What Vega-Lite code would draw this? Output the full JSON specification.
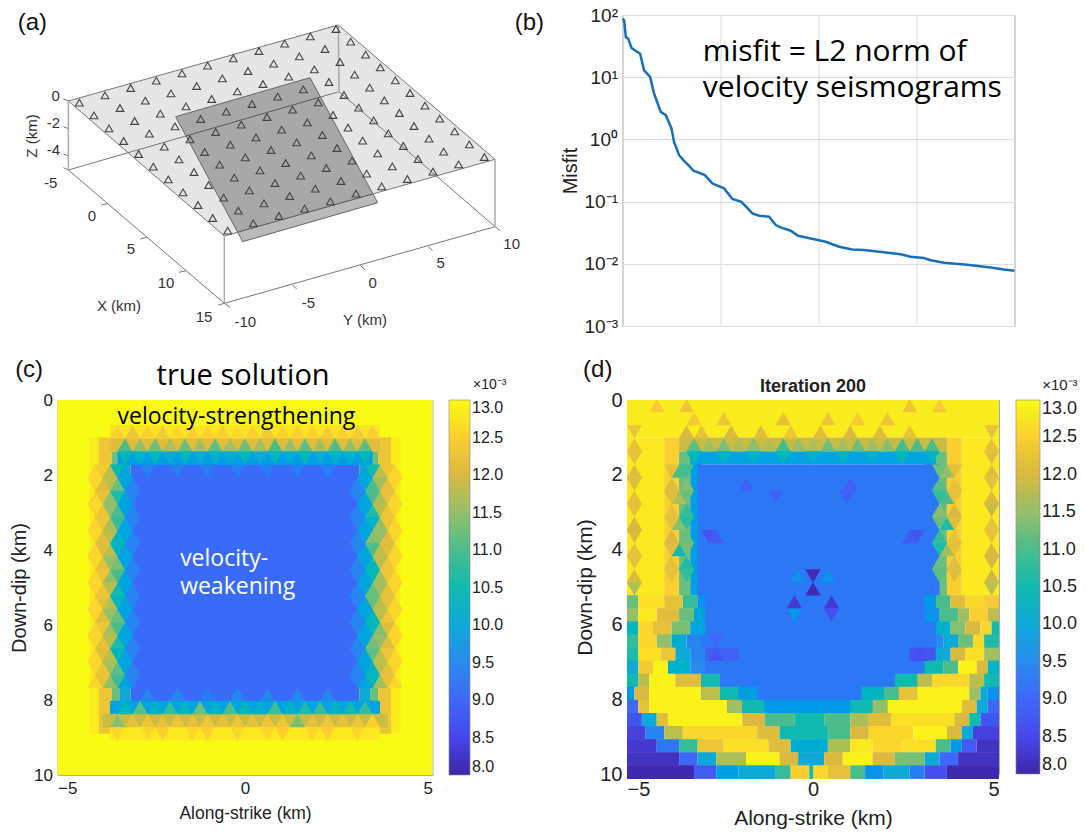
{"$schema":"https://vega.github.io/schema/vega-lite/v6.json","background":"white","padding":{"left":8.5,"top":5,"right":0,"bottom":0},"config":{"view":{"stroke":null},"font":"Liberation Sans","axis":{"labelFontSize":17,"titleFontSize":20,"labelColor":"#222","titleColor":"#222","titleFontWeight":"normal","domain":false,"ticks":false,"grid":false,"labelPadding":5,"labelFont":"Liberation Sans","titleFont":"Liberation Sans"},"legend":{"gradientLength":374,"labelFontSize":18,"labelColor":"#222","labelOverlap":false,"gradientStrokeColor":"#888","gradientStrokeWidth":0.6}},
"datasets":{
"st":[{"x":238,"y":308},{"x":282,"y":346},{"x":327,"y":385},{"x":371,"y":423},{"x":416,"y":462},{"x":460,"y":500},{"x":505,"y":538},{"x":549,"y":577},{"x":594,"y":615},{"x":638,"y":654},{"x":683,"y":692},
{"x":315,"y":286},{"x":360,"y":324},{"x":404,"y":363},{"x":448,"y":401},{"x":493,"y":440},{"x":537,"y":478},{"x":582,"y":516},{"x":626,"y":555},{"x":671,"y":593},{"x":715,"y":632},{"x":760,"y":670},
{"x":392,"y":264},{"x":436,"y":302},{"x":481,"y":341},{"x":525,"y":379},{"x":570,"y":418},{"x":614,"y":456},{"x":659,"y":494},{"x":703,"y":533},{"x":748,"y":571},{"x":792,"y":610},{"x":837,"y":648},
{"x":469,"y":242},{"x":513,"y":280},{"x":558,"y":319},{"x":602,"y":357},{"x":647,"y":396},{"x":691,"y":434},{"x":736,"y":472},{"x":780,"y":511},{"x":825,"y":549},{"x":869,"y":588},{"x":914,"y":626},
{"x":546,"y":220},{"x":590,"y":258},{"x":635,"y":297},{"x":679,"y":335},{"x":724,"y":374},{"x":768,"y":412},{"x":813,"y":450},{"x":857,"y":489},{"x":902,"y":527},{"x":946,"y":566},{"x":991,"y":604},
{"x":623,"y":197},{"x":667,"y":235},{"x":712,"y":274},{"x":756,"y":312},{"x":801,"y":351},{"x":845,"y":389},{"x":890,"y":427},{"x":934,"y":466},{"x":979,"y":504},{"x":1023,"y":543},{"x":1068,"y":581},
{"x":700,"y":175},{"x":744,"y":213},{"x":789,"y":252},{"x":833,"y":290},{"x":878,"y":329},{"x":922,"y":367},{"x":967,"y":405},{"x":1011,"y":444},{"x":1056,"y":482},{"x":1100,"y":521},{"x":1145,"y":559},
{"x":777,"y":153},{"x":821,"y":191},{"x":866,"y":230},{"x":910,"y":268},{"x":955,"y":307},{"x":999,"y":345},{"x":1044,"y":383},{"x":1088,"y":422},{"x":1133,"y":460},{"x":1177,"y":499},{"x":1222,"y":537},
{"x":854,"y":131},{"x":898,"y":169},{"x":943,"y":208},{"x":987,"y":246},{"x":1032,"y":285},{"x":1076,"y":323},{"x":1121,"y":361},{"x":1165,"y":400},{"x":1210,"y":438},{"x":1254,"y":477},{"x":1299,"y":515},
{"x":931,"y":109},{"x":975,"y":147},{"x":1020,"y":186},{"x":1064,"y":224},{"x":1109,"y":263},{"x":1153,"y":301},{"x":1198,"y":339},{"x":1242,"y":378},{"x":1287,"y":416},{"x":1331,"y":455},{"x":1376,"y":493},
{"x":1008,"y":87},{"x":1052,"y":125},{"x":1097,"y":164},{"x":1141,"y":202},{"x":1186,"y":241},{"x":1230,"y":279},{"x":1275,"y":317},{"x":1319,"y":356},{"x":1364,"y":394},{"x":1408,"y":433},{"x":1453,"y":471}],
"plane":[{"x":205,"y":303,"y2":303},{"x":673,"y":171,"y2":708},{"x":1015,"y":75,"y2":611},{"x":1485,"y":478,"y2":478}],
"patch":[{"x":527,"y":350,"y2":350},{"x":728,"y":292,"y2":725},{"x":930,"y":233,"y2":667},{"x":1133,"y":608,"y2":608}],
"edges":[{"g":1,"x":205,"y":303},{"g":1,"x":1015,"y":75},{"g":20,"x":1015,"y":75},{"g":20,"x":1485,"y":478},{"g":21,"x":1485,"y":478},{"g":21,"x":673,"y":708},{"g":22,"x":673,"y":708},{"g":22,"x":205,"y":303},
{"g":2,"x":205,"y":510},{"g":2,"x":1017,"y":275},{"g":23,"x":1017,"y":275},{"g":23,"x":1485,"y":680},{"g":3,"x":205,"y":510},{"g":3,"x":673,"y":910},{"g":24,"x":673,"y":910},{"g":24,"x":1485,"y":680},
{"g":4,"x":190,"y":297},{"g":4,"x":205,"y":303},{"g":5,"x":190,"y":380},{"g":5,"x":205,"y":386},{"g":6,"x":190,"y":462},{"g":6,"x":205,"y":468},{"g":7,"x":190,"y":503},{"g":7,"x":205,"y":510},
{"g":8,"x":325,"y":610},{"g":8,"x":305,"y":615},{"g":9,"x":440,"y":712},{"g":9,"x":420,"y":717},{"g":10,"x":558,"y":812},{"g":10,"x":537,"y":817},{"g":15,"x":673,"y":910},{"g":15,"x":655,"y":915},
{"g":11,"x":878,"y":855},{"g":11,"x":890,"y":867},{"g":12,"x":1082,"y":797},{"g":12,"x":1095,"y":810},{"g":13,"x":1285,"y":740},{"g":13,"x":1298,"y":752},{"g":14,"x":1485,"y":680},{"g":14,"x":1500,"y":692},{"g":16,"x":673,"y":910},{"g":16,"x":690,"y":922}],
"posts":[{"g":1,"x":205,"y":303},{"g":1,"x":205,"y":510},{"g":2,"x":673,"y":708},{"g":2,"x":673,"y":910},{"g":3,"x":1485,"y":478},{"g":3,"x":1485,"y":680},{"g":4,"x":1015,"y":75},{"g":4,"x":1017,"y":275}],
"patchEdge":[{"g":1,"x":527,"y":350},{"g":1,"x":930,"y":233},{"g":2,"x":930,"y":233},{"g":2,"x":1133,"y":608},{"g":3,"x":1133,"y":608},{"g":3,"x":728,"y":725},{"g":4,"x":728,"y":725},{"g":4,"x":527,"y":350}],
"aText":[{"x":167,"y":287,"t":"0"},{"x":160,"y":368,"t":"-2"},{"x":160,"y":450,"t":"-4"},{"x":152,"y":548,"t":"-5"},{"x":276,"y":648,"t":"0"},{"x":393,"y":748,"t":"5"},{"x":498,"y":850,"t":"10"},{"x":612,"y":950,"t":"15"},{"x":357,"y":918,"t":"X (km)"},{"x":736,"y":965,"t":"-10"},{"x":925,"y":908,"t":"-5"},{"x":1118,"y":848,"t":"0"},{"x":1322,"y":790,"t":"5"},{"x":1535,"y":733,"t":"10"},{"x":1095,"y":960,"t":"Y (km)"}],
"panelTag":[{"x":97,"y":70,"t":"(a)"},{"x":1588,"y":70,"t":"(b)"}],
"bLine":[{"i":0,"m":87},{"i":0.85,"m":82},{"i":1.7,"m":44},{"i":2.9,"m":41.7},{"i":4.6,"m":29.5},{"i":6.8,"m":26.4},{"i":9,"m":23.9},{"i":11,"m":12.9},{"i":14.1,"m":10.1},{"i":16.1,"m":5.46},{"i":19.5,"m":2.77},{"i":22.1,"m":2.45},{"i":25,"m":1.5},{"i":26.3,"m":0.912},{"i":28.9,"m":0.557},{"i":31.4,"m":0.452},{"i":34,"m":0.376},{"i":36.2,"m":0.313},{"i":39.1,"m":0.29},{"i":42,"m":0.266},{"i":45.9,"m":0.195},{"i":51.8,"m":0.163},{"i":56.1,"m":0.11},{"i":60.7,"m":0.0993},{"i":66.3,"m":0.0646},{"i":69.7,"m":0.0592},{"i":74.8,"m":0.057},{"i":78.2,"m":0.0419},{"i":80.7,"m":0.0384},{"i":85.8,"m":0.034},{"i":89.6,"m":0.0282},{"i":96,"m":0.0256},{"i":103.7,"m":0.0226},{"i":110.5,"m":0.0188},{"i":117.2,"m":0.017},{"i":123.2,"m":0.0166},{"i":130,"m":0.0158},{"i":141.9,"m":0.0142},{"i":147,"m":0.013},{"i":153.8,"m":0.0124},{"i":157.2,"m":0.0114},{"i":164,"m":0.0104},{"i":175.9,"m":0.00966},{"i":187.8,"m":0.00875},{"i":194.6,"m":0.00813},{"i":200,"m":0.00776}],
"bMinor":[{"m":0.002},{"m":0.003},{"m":0.004},{"m":0.005},{"m":0.006},{"m":0.007},{"m":0.008},{"m":0.009},{"m":0.02},{"m":0.03},{"m":0.04},{"m":0.05},{"m":0.06},{"m":0.07},{"m":0.08},{"m":0.09},{"m":0.2},{"m":0.3},{"m":0.4},{"m":0.5},{"m":0.6},{"m":0.7},{"m":0.8},{"m":0.9},{"m":2},{"m":3},{"m":4},{"m":5},{"m":6},{"m":7},{"m":8},{"m":9},{"m":20},{"m":30},{"m":40},{"m":50},{"m":60},{"m":70},{"m":80},{"m":90}],
"bText":[{"i":41,"m":25.4,"t":"misfit = L2 norm of"},{"i":41,"m":6.7,"t":"velocity seismograms"}],
"cBlocks":[{"x":-5,"x2":5,"y":0,"y2":10,"v":13},{"x":-4.15,"x2":-3.9,"y":1,"y2":8.9,"v":12.85},{"x":-3.9,"x2":-3.55,"y":1,"y2":8.9,"v":12.3},{"x":-3.55,"x2":-3.35,"y":1.37,"y2":8.05,"v":11.2},{"x":-3.35,"x2":-3.05,"y":1.37,"y2":8.05,"v":10},{"x":-3.05,"x2":3.05,"y":1.72,"y2":8.03,"v":9.05},{"x":3.05,"x2":3.35,"y":1.37,"y2":8.05,"v":10},{"x":3.35,"x2":3.55,"y":1.37,"y2":8.05,"v":11.2},{"x":3.55,"x2":3.9,"y":1,"y2":8.9,"v":12.3},{"x":3.9,"x2":4.15,"y":1,"y2":8.9,"v":12.85}],
"cBands":[{"x":-3.6,"x2":3.6,"y":0.85,"v":12.75},{"x":-3.6,"x2":3.6,"y":1.2,"v":12.1},{"x":-3.4,"x2":3.4,"y":1.55,"v":9.8},{"x":-3.6,"x2":3.6,"y":8.2,"v":9.9},{"x":-3.8,"x2":3.8,"y":8.55,"v":11.9},{"x":-3.6,"x2":3.6,"y":8.9,"v":12.8}],
"cUp":[{"x":-3.4,"y":0.85,"v":12.5},{"x":-3,"y":0.85,"v":12.3},{"x":-2.6,"y":0.85,"v":12.5},{"x":-2.2,"y":0.85,"v":12.4},{"x":-1.8,"y":0.85,"v":12.6},{"x":-1.4,"y":0.85,"v":12.5},{"x":-1,"y":0.85,"v":12.5},{"x":-0.6,"y":0.85,"v":12.5},{"x":-0.2,"y":0.85,"v":12.6},{"x":0.2,"y":0.85,"v":12.5},{"x":0.6,"y":0.85,"v":12.4},{"x":1,"y":0.85,"v":12.5},{"x":1.4,"y":0.85,"v":12.5},{"x":1.8,"y":0.85,"v":12.5},{"x":2.2,"y":0.85,"v":12.4},{"x":2.6,"y":0.85,"v":12.5},{"x":3,"y":0.85,"v":12.4},{"x":3.4,"y":0.85,"v":12.5},
{"x":-3.2,"y":1.2,"v":11},{"x":-2.8,"y":1.2,"v":11.5},{"x":-2.4,"y":1.2,"v":11.2},{"x":-2,"y":1.2,"v":11.7},{"x":-1.6,"y":1.2,"v":11.2},{"x":-1.2,"y":1.2,"v":11.6},{"x":-0.8,"y":1.2,"v":11.1},{"x":-0.4,"y":1.2,"v":11.6},{"x":0,"y":1.2,"v":11.2},{"x":0.4,"y":1.2,"v":11.6},{"x":0.8,"y":1.2,"v":11},{"x":1.2,"y":1.2,"v":11.5},{"x":1.6,"y":1.2,"v":11.1},{"x":2,"y":1.2,"v":11.6},{"x":2.4,"y":1.2,"v":11},{"x":2.8,"y":1.2,"v":11.5},{"x":3.2,"y":1.2,"v":11.1},
{"x":-2.6,"y":7.85,"v":9.4},{"x":-1.8,"y":7.85,"v":9.4},{"x":-1,"y":7.85,"v":9.3},{"x":-0.2,"y":7.85,"v":9.4},{"x":0.6,"y":7.85,"v":9.4},{"x":1.4,"y":7.85,"v":9.4},{"x":2.2,"y":7.85,"v":9.4},
{"x":-3.2,"y":8.2,"v":10.4},{"x":-2.8,"y":8.2,"v":11.1},{"x":-2.4,"y":8.2,"v":10.3},{"x":-2,"y":8.2,"v":10.8},{"x":-1.6,"y":8.2,"v":10.4},{"x":-1.2,"y":8.2,"v":11.2},{"x":-0.8,"y":8.2,"v":10.3},{"x":-0.4,"y":8.2,"v":11},{"x":0,"y":8.2,"v":10.4},{"x":0.4,"y":8.2,"v":10.2},{"x":0.8,"y":8.2,"v":10.9},{"x":1.2,"y":8.2,"v":10.3},{"x":1.6,"y":8.2,"v":10.6},{"x":2,"y":8.2,"v":10.8},{"x":2.4,"y":8.2,"v":10.3},{"x":2.8,"y":8.2,"v":10.5},{"x":3.2,"y":8.2,"v":10.8},
{"x":-3.4,"y":8.55,"v":11.4},{"x":-3,"y":8.55,"v":12.2},{"x":-2.6,"y":8.55,"v":12.3},{"x":-2.2,"y":8.55,"v":12.2},{"x":-1.8,"y":8.55,"v":12.3},{"x":-1.4,"y":8.55,"v":12.2},{"x":-1,"y":8.55,"v":12.3},{"x":-0.6,"y":8.55,"v":12.2},{"x":-0.2,"y":8.55,"v":12.3},{"x":0.2,"y":8.55,"v":12.2},{"x":0.6,"y":8.55,"v":12.3},{"x":1,"y":8.55,"v":12.3},{"x":1.4,"y":8.55,"v":11.3},{"x":1.8,"y":8.55,"v":12.2},{"x":2.2,"y":8.55,"v":12.3},{"x":2.6,"y":8.55,"v":12.2},{"x":3,"y":8.55,"v":12.3},{"x":3.4,"y":8.55,"v":12.5},
{"x":-3.8,"y":2.25,"v":12.1},{"x":-3.4,"y":2.25,"v":11.2},{"x":3.4,"y":2.25,"v":11},{"x":3.8,"y":2.25,"v":12.2},{"x":-3.8,"y":2.95,"v":12.3},{"x":-3.4,"y":2.95,"v":11},{"x":3.4,"y":2.95,"v":10.6},{"x":3.8,"y":2.95,"v":12.3},{"x":-3.8,"y":3.65,"v":12.1},{"x":-3.4,"y":3.65,"v":10.3},{"x":3.4,"y":3.65,"v":11.4},{"x":3.8,"y":3.65,"v":12.1},{"x":-3.8,"y":4.35,"v":12.2},{"x":-3.4,"y":4.35,"v":11.3},{"x":3.4,"y":4.35,"v":10.4},{"x":3.8,"y":4.35,"v":12.3},{"x":-3.8,"y":5.05,"v":12.3},{"x":-3.4,"y":5.05,"v":10.5},{"x":3.4,"y":5.05,"v":11.2},{"x":3.8,"y":5.05,"v":12.2},{"x":-3.8,"y":5.75,"v":12.1},{"x":-3.4,"y":5.75,"v":11.2},{"x":3.4,"y":5.75,"v":10.4},{"x":3.8,"y":5.75,"v":12.3},{"x":-3.8,"y":6.45,"v":12.2},{"x":-3.4,"y":6.45,"v":10.6},{"x":3.4,"y":6.45,"v":11.3},{"x":3.8,"y":6.45,"v":12.1},{"x":-3.8,"y":7.15,"v":12.3},{"x":-3.4,"y":7.15,"v":11.1},{"x":3.4,"y":7.15,"v":10.3},{"x":3.8,"y":7.15,"v":12.2},
{"x":-3.6,"y":1.9,"v":11.8},{"x":3.6,"y":1.9,"v":11.8},{"x":-3.6,"y":2.6,"v":11.5},{"x":3.6,"y":2.6,"v":11.7},{"x":-3.6,"y":3.3,"v":11.7},{"x":3.6,"y":3.3,"v":11.5},{"x":-3.6,"y":4,"v":11.8},{"x":3.6,"y":4,"v":11.8},{"x":-3.6,"y":4.7,"v":11.5},{"x":3.6,"y":4.7,"v":11.6},{"x":-3.6,"y":5.4,"v":11.8},{"x":3.6,"y":5.4,"v":11.8},{"x":-3.6,"y":6.1,"v":11.6},{"x":3.6,"y":6.1,"v":11.4},{"x":-3.6,"y":6.8,"v":11.8},{"x":3.6,"y":6.8,"v":11.8},{"x":-3.6,"y":7.5,"v":11.5},{"x":3.6,"y":7.5,"v":11.6},
{"x":-3,"y":2.25,"v":9.4},{"x":3,"y":2.25,"v":9.4},{"x":-3,"y":2.95,"v":9.4},{"x":3,"y":2.95,"v":9.4},{"x":-3,"y":3.65,"v":9.4},{"x":3,"y":3.65,"v":9.4},{"x":-3,"y":4.35,"v":9.4},{"x":3,"y":4.35,"v":9.4},{"x":-3,"y":5.05,"v":9.4},{"x":3,"y":5.05,"v":9.4},{"x":-3,"y":5.75,"v":9.4},{"x":3,"y":5.75,"v":9.4},{"x":-3,"y":6.45,"v":9.4},{"x":3,"y":6.45,"v":9.4},{"x":-3,"y":7.15,"v":9.4},{"x":3,"y":7.15,"v":9.4},
{"x":-3.2,"y":1.9,"v":9.9},{"x":3.2,"y":1.9,"v":9.9},{"x":-3.2,"y":2.6,"v":9.9},{"x":3.2,"y":2.6,"v":9.9},{"x":-3.2,"y":3.3,"v":9.9},{"x":3.2,"y":3.3,"v":9.9},{"x":-3.2,"y":4,"v":9.9},{"x":3.2,"y":4,"v":9.9},{"x":-3.2,"y":4.7,"v":9.9},{"x":3.2,"y":4.7,"v":9.9},{"x":-3.2,"y":5.4,"v":9.9},{"x":3.2,"y":5.4,"v":9.9},{"x":-3.2,"y":6.1,"v":9.9},{"x":3.2,"y":6.1,"v":9.9},{"x":-3.2,"y":6.8,"v":9.9},{"x":3.2,"y":6.8,"v":9.9},{"x":-3.2,"y":7.5,"v":9.9},{"x":3.2,"y":7.5,"v":9.9},
{"x":-4,"y":1.9,"v":12.6},{"x":4,"y":1.9,"v":12.6},{"x":-4,"y":2.6,"v":12.6},{"x":4,"y":2.6,"v":12.6},{"x":-4,"y":3.3,"v":12.6},{"x":4,"y":3.3,"v":12.6},{"x":-4,"y":4,"v":12.6},{"x":4,"y":4,"v":12.6},{"x":-4,"y":4.7,"v":12.6},{"x":4,"y":4.7,"v":12.6},{"x":-4,"y":5.4,"v":12.6},{"x":4,"y":5.4,"v":12.6},{"x":-4,"y":6.1,"v":12.6},{"x":4,"y":6.1,"v":12.6},{"x":-4,"y":6.8,"v":12.6},{"x":4,"y":6.8,"v":12.6},{"x":-4,"y":7.5,"v":12.6},{"x":4,"y":7.5,"v":12.6}],
"cDown":[{"x":-3.2,"y":1.55,"v":10.4},{"x":-2.8,"y":1.55,"v":10.2},{"x":-2.4,"y":1.55,"v":10.4},{"x":-2,"y":1.55,"v":10},{"x":-1.6,"y":1.55,"v":10.4},{"x":-1.2,"y":1.55,"v":10},{"x":-0.8,"y":1.55,"v":10.3},{"x":-0.4,"y":1.55,"v":10.1},{"x":0,"y":1.55,"v":10.4},{"x":0.4,"y":1.55,"v":10},{"x":0.8,"y":1.55,"v":10.4},{"x":1.2,"y":1.55,"v":10.1},{"x":1.6,"y":1.55,"v":10.4},{"x":2,"y":1.55,"v":10},{"x":2.4,"y":1.55,"v":10.3},{"x":2.8,"y":1.55,"v":10.2},{"x":3.2,"y":1.55,"v":10.4},
{"x":-2.6,"y":1.9,"v":9.35},{"x":-1.8,"y":1.9,"v":9.35},{"x":-1,"y":1.9,"v":9.3},{"x":-0.2,"y":1.9,"v":9.35},{"x":0.6,"y":1.9,"v":9.3},{"x":1.4,"y":1.9,"v":9.35},{"x":2.2,"y":1.9,"v":9.35},
{"x":-3.4,"y":8.9,"v":12.6},{"x":-2.6,"y":8.9,"v":12.6},{"x":-2.2,"y":8.9,"v":12.5},{"x":-1.4,"y":8.9,"v":12.6},{"x":-1,"y":8.9,"v":12.5},{"x":-0.2,"y":8.9,"v":12.6},{"x":0.6,"y":8.9,"v":12.6},{"x":1,"y":8.9,"v":12.5},{"x":1.8,"y":8.9,"v":12.6},{"x":2.2,"y":8.9,"v":12.5},{"x":3,"y":8.9,"v":12.6},
{"x":-3.6,"y":2.25,"v":11.8},{"x":3.6,"y":2.25,"v":11.6},{"x":-3.6,"y":2.95,"v":11.5},{"x":3.6,"y":2.95,"v":11.8},{"x":-3.6,"y":3.65,"v":11.8},{"x":3.6,"y":3.65,"v":11.5},{"x":-3.6,"y":4.35,"v":11.5},{"x":3.6,"y":4.35,"v":11.8},{"x":-3.6,"y":5.05,"v":11.8},{"x":3.6,"y":5.05,"v":11.6},{"x":-3.6,"y":5.75,"v":11.5},{"x":3.6,"y":5.75,"v":11.8},{"x":-3.6,"y":6.45,"v":11.8},{"x":3.6,"y":6.45,"v":11.5},{"x":-3.6,"y":7.15,"v":11.6},{"x":3.6,"y":7.15,"v":11.8},
{"x":-3.8,"y":1.9,"v":12.4},{"x":-3.4,"y":1.9,"v":10.4},{"x":3.4,"y":1.9,"v":10.5},{"x":3.8,"y":1.9,"v":12.3},{"x":-3.8,"y":2.6,"v":12.2},{"x":-3.4,"y":2.6,"v":10.6},{"x":3.4,"y":2.6,"v":11},{"x":3.8,"y":2.6,"v":12.2},{"x":-3.8,"y":3.3,"v":12.3},{"x":-3.4,"y":3.3,"v":10.8},{"x":3.4,"y":3.3,"v":10.3},{"x":3.8,"y":3.3,"v":12.3},{"x":-3.8,"y":4,"v":12.1},{"x":-3.4,"y":4,"v":10.3},{"x":3.4,"y":4,"v":11},{"x":3.8,"y":4,"v":12.1},{"x":-3.8,"y":4.7,"v":12.3},{"x":-3.4,"y":4.7,"v":11},{"x":3.4,"y":4.7,"v":10.4},{"x":3.8,"y":4.7,"v":12.3},{"x":-3.8,"y":5.4,"v":12.2},{"x":-3.4,"y":5.4,"v":10.4},{"x":3.4,"y":5.4,"v":11.2},{"x":3.8,"y":5.4,"v":12.2},{"x":-3.8,"y":6.1,"v":12.3},{"x":-3.4,"y":6.1,"v":11},{"x":3.4,"y":6.1,"v":10.4},{"x":3.8,"y":6.1,"v":12.1},{"x":-3.8,"y":6.8,"v":12.1},{"x":-3.4,"y":6.8,"v":10.4},{"x":3.4,"y":6.8,"v":11.1},{"x":3.8,"y":6.8,"v":12.3},{"x":-3.8,"y":7.5,"v":12.2},{"x":-3.4,"y":7.5,"v":10.9},{"x":3.4,"y":7.5,"v":10.4},{"x":3.8,"y":7.5,"v":12.2},
{"x":-3.2,"y":2.25,"v":9.9},{"x":3.2,"y":2.25,"v":9.9},{"x":-3.2,"y":2.95,"v":9.9},{"x":3.2,"y":2.95,"v":9.9},{"x":-3.2,"y":3.65,"v":9.9},{"x":3.2,"y":3.65,"v":9.9},{"x":-3.2,"y":4.35,"v":9.9},{"x":3.2,"y":4.35,"v":9.9},{"x":-3.2,"y":5.05,"v":9.9},{"x":3.2,"y":5.05,"v":9.9},{"x":-3.2,"y":5.75,"v":9.9},{"x":3.2,"y":5.75,"v":9.9},{"x":-3.2,"y":6.45,"v":9.9},{"x":3.2,"y":6.45,"v":9.9},{"x":-3.2,"y":7.15,"v":9.9},{"x":3.2,"y":7.15,"v":9.9},
{"x":-3,"y":2.6,"v":9.4},{"x":3,"y":2.6,"v":9.4},{"x":-3,"y":3.3,"v":9.4},{"x":3,"y":3.3,"v":9.4},{"x":-3,"y":4,"v":9.4},{"x":3,"y":4,"v":9.4},{"x":-3,"y":4.7,"v":9.4},{"x":3,"y":4.7,"v":9.4},{"x":-3,"y":5.4,"v":9.4},{"x":3,"y":5.4,"v":9.4},{"x":-3,"y":6.1,"v":9.4},{"x":3,"y":6.1,"v":9.4},{"x":-3,"y":6.8,"v":9.4},{"x":3,"y":6.8,"v":9.4},{"x":-3,"y":7.5,"v":9.4},{"x":3,"y":7.5,"v":9.4},
{"x":-4,"y":2.25,"v":12.6},{"x":4,"y":2.25,"v":12.6},{"x":-4,"y":2.95,"v":12.6},{"x":4,"y":2.95,"v":12.6},{"x":-4,"y":3.65,"v":12.6},{"x":4,"y":3.65,"v":12.6},{"x":-4,"y":4.35,"v":12.6},{"x":4,"y":4.35,"v":12.6},{"x":-4,"y":5.05,"v":12.6},{"x":4,"y":5.05,"v":12.6},{"x":-4,"y":5.75,"v":12.6},{"x":4,"y":5.75,"v":12.6},{"x":-4,"y":6.45,"v":12.6},{"x":4,"y":6.45,"v":12.6},{"x":-4,"y":7.15,"v":12.6},{"x":4,"y":7.15,"v":12.6}],
"cText":[{"x":-3.4,"y":0.45,"t":"velocity-strengthening"}],
"cWhite":[{"x":-1.73,"y":4.24,"t":"velocity-"},{"x":-1.73,"y":4.99,"t":"weakening"}],
"cTag":[{"x":-6.13,"y":-0.8,"t":"(c)"}],
"cTitle":[{"x":-0.05,"y":-0.65,"t":"true solution"}],
"cExp":[{"x":6.08,"y":-0.4,"t":"×10⁻³"}],
"dTag":[{"x":-6.18,"y":-0.8,"t":"(d)"}],
"dTitle":[{"x":0,"y":-0.35,"t":"Iteration 200"}],
"dExp":[{"x":6.16,"y":-0.4,"t":"×10⁻³"}],
"dBlocks":[{"x":-5,"x2":5,"y":0,"y2":1,"v":12.85},{"x":-5,"x2":-4,"y":1,"y2":5.23,"v":12.8},{"x":-4,"x2":-3.6,"y":1,"y2":5.23,"v":12.5},{"x":-3.6,"x2":-3.3,"y":1.37,"y2":5.23,"v":11.2},{"x":-3.3,"x2":-3,"y":1.37,"y2":5.23,"v":9.8},{"x":3,"x2":3.3,"y":1.37,"y2":5.23,"v":9.8},{"x":3.3,"x2":3.6,"y":1.37,"y2":5.23,"v":11.2},{"x":3.6,"x2":4,"y":1,"y2":5.23,"v":12.5},{"x":4,"x2":5,"y":1,"y2":5.23,"v":12.8},{"x":-3.6,"x2":3.6,"y":1,"y2":1.37,"v":11.9},{"x":-3.3,"x2":3.3,"y":1.37,"y2":1.72,"v":9.9},{"x":-3.1,"x2":3.4,"y":1.72,"y2":8.4,"v":9.2}],
"dBands":[{"x":-5,"x2":-4.7,"y":5.4,"v":11.2},{"x":-4.7,"x2":-4,"y":5.4,"v":12.7},{"x":-4,"x2":-3.5,"y":5.4,"v":12.2},{"x":-3.5,"x2":-3.1,"y":5.4,"v":10.8},{"x":-3.1,"x2":-2.9,"y":5.4,"v":9.6},{"x":3,"x2":3.3,"y":5.4,"v":9.7},{"x":3.3,"x2":3.7,"y":5.4,"v":11},{"x":3.7,"x2":4.1,"y":5.4,"v":12.1},{"x":4.1,"x2":4.6,"y":5.4,"v":12.6},{"x":4.6,"x2":5,"y":5.4,"v":12.4},
{"x":-5,"x2":-4.7,"y":5.75,"v":11.5},{"x":-4.7,"x2":-4.2,"y":5.75,"v":12.8},{"x":-4.2,"x2":-3.6,"y":5.75,"v":12.1},{"x":-3.6,"x2":-3.2,"y":5.75,"v":11.2},{"x":-3.2,"x2":-2.9,"y":5.75,"v":9.9},{"x":3,"x2":3.4,"y":5.75,"v":9.6},{"x":3.4,"x2":3.9,"y":5.75,"v":11},{"x":3.9,"x2":4.2,"y":5.75,"v":11.6},{"x":4.2,"x2":4.7,"y":5.75,"v":12.5},{"x":4.7,"x2":5,"y":5.75,"v":11.8},
{"x":-5,"x2":-4.7,"y":6.1,"v":10.4},{"x":-4.7,"x2":-4.3,"y":6.1,"v":12.6},{"x":-4.3,"x2":-3.8,"y":6.1,"v":12.2},{"x":-3.8,"x2":-3.3,"y":6.1,"v":11.3},{"x":-3.3,"x2":-2.9,"y":6.1,"v":9.9},{"x":3.3,"x2":3.7,"y":6.1,"v":10.2},{"x":3.7,"x2":4.1,"y":6.1,"v":11.4},{"x":4.1,"x2":4.5,"y":6.1,"v":12},{"x":4.5,"x2":4.8,"y":6.1,"v":12.6},{"x":4.8,"x2":5,"y":6.1,"v":10.5},
{"x":-5,"x2":-4.7,"y":6.45,"v":10.8},{"x":-4.7,"x2":-4.2,"y":6.45,"v":12.6},{"x":-4.2,"x2":-3.8,"y":6.45,"v":11.5},{"x":-3.8,"x2":-3.4,"y":6.45,"v":10.1},{"x":-3.4,"x2":-3,"y":6.45,"v":9.4},{"x":3.3,"x2":3.5,"y":6.45,"v":9.5},{"x":3.5,"x2":3.9,"y":6.45,"v":10},{"x":3.9,"x2":4.3,"y":6.45,"v":11.2},{"x":4.3,"x2":4.6,"y":6.45,"v":12.6},{"x":4.6,"x2":5,"y":6.45,"v":10.6},
{"x":-5,"x2":-4.7,"y":6.8,"v":10.6},{"x":-4.7,"x2":-4.1,"y":6.8,"v":12.7},{"x":-4.1,"x2":-3.7,"y":6.8,"v":12.3},{"x":-3.7,"x2":-3.3,"y":6.8,"v":10},{"x":-3.3,"x2":-2.9,"y":6.8,"v":9.4},{"x":-2.9,"x2":-2,"y":6.8,"v":8.9},{"x":2.6,"x2":3.3,"y":6.8,"v":8.7},{"x":3.3,"x2":3.7,"y":6.8,"v":10},{"x":3.7,"x2":4.1,"y":6.8,"v":12},{"x":4.1,"x2":4.6,"y":6.8,"v":12.7},{"x":4.6,"x2":5,"y":6.8,"v":11.6},
{"x":-5,"x2":-4.7,"y":7.15,"v":10},{"x":-4.7,"x2":-4.3,"y":7.15,"v":12.4},{"x":-4.3,"x2":-3.9,"y":7.15,"v":12.9},{"x":-3.9,"x2":-3.3,"y":7.15,"v":10.2},{"x":-3.3,"x2":-2.9,"y":7.15,"v":9.5},{"x":3,"x2":3.5,"y":7.15,"v":10.5},{"x":3.5,"x2":3.9,"y":7.15,"v":11},{"x":3.9,"x2":4.4,"y":7.15,"v":12.9},{"x":4.4,"x2":4.7,"y":7.15,"v":12},{"x":4.7,"x2":5,"y":7.15,"v":10.3},
{"x":-5,"x2":-4.7,"y":7.5,"v":10.5},{"x":-4.7,"x2":-4.4,"y":7.5,"v":11.8},{"x":-4.4,"x2":-3.7,"y":7.5,"v":12.9},{"x":-3.7,"x2":-3,"y":7.5,"v":12.1},{"x":-3,"x2":-2.5,"y":7.5,"v":10.5},{"x":2.2,"x2":2.8,"y":7.5,"v":10.5},{"x":2.8,"x2":3.2,"y":7.5,"v":11.8},{"x":3.2,"x2":4.2,"y":7.5,"v":12.6},{"x":4.2,"x2":4.6,"y":7.5,"v":11.8},{"x":4.6,"x2":5,"y":7.5,"v":10.5},
{"x":-5,"x2":-4.8,"y":7.85,"v":9.7},{"x":-4.8,"x2":-4.4,"y":7.85,"v":12},{"x":-4.4,"x2":-3,"y":7.85,"v":12.9},{"x":-3,"x2":-2.5,"y":7.85,"v":11.8},{"x":-2.5,"x2":-2,"y":7.85,"v":10.5},{"x":-2,"x2":-1.5,"y":7.85,"v":9.8},{"x":1.3,"x2":1.9,"y":7.85,"v":10.3},{"x":1.9,"x2":2.3,"y":7.85,"v":11},{"x":2.3,"x2":2.8,"y":7.85,"v":12.2},{"x":2.8,"x2":4.2,"y":7.85,"v":12.9},{"x":4.2,"x2":4.5,"y":7.85,"v":11.6},{"x":4.5,"x2":4.7,"y":7.85,"v":10},{"x":4.7,"x2":5,"y":7.85,"v":9.6},
{"x":-5,"x2":-4.7,"y":8.2,"v":9},{"x":-4.7,"x2":-4.4,"y":8.2,"v":12.2},{"x":-4.4,"x2":-2.3,"y":8.2,"v":12.9},{"x":-2.3,"x2":-1.9,"y":8.2,"v":11.6},{"x":-1.9,"x2":-1.3,"y":8.2,"v":10.5},{"x":-1.3,"x2":1,"y":8.2,"v":9.7},{"x":1,"x2":1.6,"y":8.2,"v":10.5},{"x":1.6,"x2":2,"y":8.2,"v":11.5},{"x":2,"x2":4,"y":8.2,"v":12.9},{"x":4,"x2":4.4,"y":8.2,"v":12.1},{"x":4.4,"x2":4.7,"y":8.2,"v":10},{"x":4.7,"x2":5,"y":8.2,"v":9},
{"x":-5,"x2":-4.6,"y":8.55,"v":8.7},{"x":-4.6,"x2":-4.2,"y":8.55,"v":10},{"x":-4.2,"x2":-3.9,"y":8.55,"v":12.1},{"x":-3.9,"x2":-1.9,"y":8.55,"v":12.9},{"x":-1.9,"x2":-1.3,"y":8.55,"v":12},{"x":-1.3,"x2":-0.5,"y":8.55,"v":11},{"x":-0.5,"x2":0.3,"y":8.55,"v":10.5},{"x":0.3,"x2":1,"y":8.55,"v":11},{"x":1,"x2":1.5,"y":8.55,"v":11.7},{"x":1.5,"x2":2.1,"y":8.55,"v":12.1},{"x":2.1,"x2":3.8,"y":8.55,"v":12.7},{"x":3.8,"x2":4.2,"y":8.55,"v":12},{"x":4.2,"x2":4.5,"y":8.55,"v":10.5},{"x":4.5,"x2":5,"y":8.55,"v":8.7},
{"x":-5,"x2":-4.5,"y":8.9,"v":8.4},{"x":-4.5,"x2":-4,"y":8.9,"v":9.4},{"x":-4,"x2":-3.5,"y":8.9,"v":11.8},{"x":-3.5,"x2":-1.5,"y":8.9,"v":12.6},{"x":-1.5,"x2":-0.9,"y":8.9,"v":12.1},{"x":-0.9,"x2":0.4,"y":8.9,"v":10.5},{"x":0.4,"x2":1,"y":8.9,"v":11},{"x":1,"x2":1.5,"y":8.9,"v":12},{"x":1.5,"x2":2.7,"y":8.9,"v":12.6},{"x":2.7,"x2":3.6,"y":8.9,"v":12.9},{"x":3.6,"x2":4,"y":8.9,"v":12},{"x":4,"x2":4.3,"y":8.9,"v":10},{"x":4.3,"x2":5,"y":8.9,"v":8.4},
{"x":-5,"x2":-4.2,"y":9.25,"v":8.3},{"x":-4.2,"x2":-3.6,"y":9.25,"v":9.2},{"x":-3.6,"x2":-3.1,"y":9.25,"v":10.8},{"x":-3.1,"x2":-2.4,"y":9.25,"v":12.3},{"x":-2.4,"x2":-1.2,"y":9.25,"v":12.7},{"x":-1.2,"x2":-0.6,"y":9.25,"v":12.1},{"x":-0.6,"x2":0.4,"y":9.25,"v":10.1},{"x":0.4,"x2":1,"y":9.25,"v":11.7},{"x":1,"x2":1.6,"y":9.25,"v":12.8},{"x":1.6,"x2":2.4,"y":9.25,"v":12.6},{"x":2.4,"x2":3.3,"y":9.25,"v":12.7},{"x":3.3,"x2":3.7,"y":9.25,"v":11},{"x":3.7,"x2":4,"y":9.25,"v":9.7},{"x":4,"x2":4.4,"y":9.25,"v":8.8},{"x":4.4,"x2":5,"y":9.25,"v":8.2},
{"x":-5,"x2":-3.6,"y":9.6,"v":8.2},{"x":-3.6,"x2":-3.1,"y":9.6,"v":9},{"x":-3.1,"x2":-2.6,"y":9.6,"v":10},{"x":-2.6,"x2":-1.8,"y":9.6,"v":11.7},{"x":-1.8,"x2":-0.9,"y":9.6,"v":12.9},{"x":-0.9,"x2":-0.4,"y":9.6,"v":12},{"x":-0.4,"x2":0.3,"y":9.6,"v":10},{"x":0.3,"x2":0.8,"y":9.6,"v":12},{"x":0.8,"x2":1.6,"y":9.6,"v":12.9},{"x":1.6,"x2":2.2,"y":9.6,"v":12},{"x":2.2,"x2":3,"y":9.6,"v":11.3},{"x":3,"x2":3.4,"y":9.6,"v":10},{"x":3.4,"x2":3.9,"y":9.6,"v":9},{"x":3.9,"x2":5,"y":9.6,"v":8.2},
{"x":-5,"x2":-3.2,"y":9.95,"v":8.05},{"x":-3.2,"x2":-2.6,"y":9.95,"v":8.8},{"x":-2.6,"x2":-2,"y":9.95,"v":9.8},{"x":-2,"x2":-1,"y":9.95,"v":10},{"x":-1,"x2":-0.6,"y":9.95,"v":10.8},{"x":-0.6,"x2":-0.1,"y":9.95,"v":12.5},{"x":-0.1,"x2":0,"y":9.95,"v":10.5},{"x":0,"x2":0.4,"y":9.95,"v":12.6},{"x":0.4,"x2":1,"y":9.95,"v":12.2},{"x":1,"x2":1.4,"y":9.95,"v":11},{"x":1.4,"x2":1.9,"y":9.95,"v":9.6},{"x":1.9,"x2":2.6,"y":9.95,"v":10},{"x":2.6,"x2":3,"y":9.95,"v":9.3},{"x":3,"x2":3.6,"y":9.95,"v":8.6},{"x":3.6,"x2":5,"y":9.95,"v":8.05}],
"dUp":[{"x":-4.2,"y":0.15,"v":12.4},{"x":-3.4,"y":0.15,"v":12.3},{"x":2.6,"y":0.15,"v":12.3},{"x":3.4,"y":0.15,"v":12.4},{"x":-3.2,"y":0.5,"v":12.4},{"x":-2.4,"y":0.5,"v":12.3},{"x":-0.8,"y":0.5,"v":12.2},{"x":0.4,"y":0.5,"v":12.3},{"x":1.2,"y":0.5,"v":12.4},{"x":2,"y":0.5,"v":12.3},{"x":-3.4,"y":0.85,"v":12},{"x":-3,"y":0.85,"v":12.2},{"x":-2.2,"y":0.85,"v":12},{"x":-1.4,"y":0.85,"v":12.1},{"x":-0.6,"y":0.85,"v":12.3},{"x":0.2,"y":0.85,"v":12.1},{"x":1,"y":0.85,"v":12},{"x":1.8,"y":0.85,"v":12.1},{"x":2.6,"y":0.85,"v":12.2},
{"x":-3.2,"y":1.2,"v":11.1},{"x":-2.8,"y":1.2,"v":11.6},{"x":-2.4,"y":1.2,"v":11.3},{"x":-2,"y":1.2,"v":11.7},{"x":-1.6,"y":1.2,"v":11.4},{"x":-1.2,"y":1.2,"v":11.7},{"x":-0.8,"y":1.2,"v":10.9},{"x":-0.4,"y":1.2,"v":11.5},{"x":0,"y":1.2,"v":11.7},{"x":0.4,"y":1.2,"v":11.2},{"x":0.8,"y":1.2,"v":11.6},{"x":1.2,"y":1.2,"v":11.2},{"x":1.6,"y":1.2,"v":11.6},{"x":2,"y":1.2,"v":11.4},{"x":2.4,"y":1.2,"v":10.9},{"x":2.8,"y":1.2,"v":11},{"x":3.2,"y":1.2,"v":11},
{"x":-4.8,"y":1.2,"v":12.2},{"x":-4.8,"y":1.9,"v":12.1},{"x":-4.8,"y":2.6,"v":12.2},{"x":-4.8,"y":3.3,"v":12},{"x":-4.8,"y":4,"v":12.2},{"x":-4.8,"y":4.7,"v":12},{"x":4.8,"y":1.2,"v":12.2},{"x":4.8,"y":1.9,"v":12.1},{"x":4.8,"y":2.6,"v":12},{"x":4.8,"y":3.3,"v":12.2},{"x":4.8,"y":4,"v":12},{"x":4.8,"y":4.7,"v":11.9},
{"x":-3.6,"y":1.9,"v":11},{"x":-3.6,"y":2.6,"v":11.7},{"x":-3.6,"y":3.3,"v":11.4},{"x":-3.6,"y":4,"v":10.5},{"x":3.6,"y":1.9,"v":11.5},{"x":3.6,"y":2.6,"v":11},{"x":3.6,"y":3.3,"v":10.6},{"x":3.6,"y":4,"v":11.6},
{"x":-3.8,"y":2.25,"v":12.1},{"x":-3.4,"y":2.25,"v":11.4},{"x":3.4,"y":2.25,"v":11.1},{"x":3.8,"y":2.25,"v":12.2},{"x":-3.8,"y":2.95,"v":12.2},{"x":-3.4,"y":2.95,"v":10.8},{"x":3.4,"y":2.95,"v":11.4},{"x":3.8,"y":2.95,"v":12},{"x":-3.8,"y":3.65,"v":12},{"x":-3.4,"y":3.65,"v":11.2},{"x":3.4,"y":3.65,"v":10.8},{"x":3.8,"y":3.65,"v":12.2},{"x":-3.8,"y":4.35,"v":12.2},{"x":-3.4,"y":4.35,"v":10.6},{"x":3.4,"y":4.35,"v":11.2},{"x":3.8,"y":4.35,"v":12.1},
{"x":-2.6,"y":3.65,"v":8.8},{"x":2.6,"y":3.65,"v":8.8},{"x":-1.8,"y":2.25,"v":8.9},{"x":1,"y":2.25,"v":8.9},{"x":-0.4,"y":4.7,"v":9.6},{"x":0.4,"y":4.7,"v":9.6},{"x":0,"y":5.05,"v":8.1},{"x":-0.5,"y":5.4,"v":8.3},{"x":0.5,"y":5.4,"v":8.3},{"x":2.9,"y":6.8,"v":8.6},{"x":-2.6,"y":6.8,"v":8.7}],
"dDown":[{"x":-4.8,"y":0.85,"v":12.3},{"x":-4.8,"y":1.55,"v":12.2},{"x":-4.8,"y":2.25,"v":12.1},{"x":-4.8,"y":2.95,"v":12.2},{"x":-4.8,"y":3.65,"v":12},{"x":-4.8,"y":4.35,"v":12.2},{"x":-4.8,"y":5.05,"v":11.7},{"x":4.8,"y":0.85,"v":12.2},{"x":4.8,"y":1.55,"v":12.1},{"x":4.8,"y":2.25,"v":12.2},{"x":4.8,"y":2.95,"v":11.9},{"x":4.8,"y":3.65,"v":12.2},{"x":4.8,"y":4.35,"v":12},{"x":4.8,"y":5.05,"v":11.8},
{"x":-3.2,"y":1.55,"v":10.4},{"x":-2.4,"y":1.55,"v":10.3},{"x":-1.6,"y":1.55,"v":10.2},{"x":-0.8,"y":1.55,"v":10.4},{"x":0,"y":1.55,"v":10.2},{"x":0.8,"y":1.55,"v":10.3},{"x":1.6,"y":1.55,"v":10.2},{"x":2.4,"y":1.55,"v":10.4},{"x":3.2,"y":1.55,"v":10.3},
{"x":-3.8,"y":1.9,"v":12.2},{"x":-3.4,"y":1.9,"v":10.9},{"x":3.4,"y":1.9,"v":11.2},{"x":3.8,"y":1.9,"v":12.1},{"x":-3.8,"y":2.6,"v":12.1},{"x":-3.4,"y":2.6,"v":11.2},{"x":3.4,"y":2.6,"v":10.8},{"x":3.8,"y":2.6,"v":12.2},{"x":-3.8,"y":3.3,"v":12.2},{"x":-3.4,"y":3.3,"v":10.7},{"x":3.4,"y":3.3,"v":11.2},{"x":3.8,"y":3.3,"v":12.1},{"x":-3.8,"y":4,"v":12.1},{"x":-3.4,"y":4,"v":11.3},{"x":3.4,"y":4,"v":10.6},{"x":3.8,"y":4,"v":12.2},{"x":-3.8,"y":4.7,"v":12.2},{"x":-3.4,"y":4.7,"v":10.8},{"x":3.4,"y":4.7,"v":11.1},{"x":3.8,"y":4.7,"v":12.1},
{"x":-2.8,"y":3.65,"v":8.7},{"x":2.8,"y":3.65,"v":8.7},{"x":-1,"y":2.6,"v":8.9},{"x":0.9,"y":2.6,"v":8.9},{"x":0,"y":4.7,"v":8.1},{"x":0.5,"y":5.75,"v":8.6},{"x":-0.5,"y":5.75,"v":9.7},{"x":-2.6,"y":6.45,"v":9}]},
"spacing":17,"resolve":{"scale":{"fill":"independent"},"legend":{"fill":"independent"}},
"vconcat":[
{"spacing":15,"hconcat":[
{"width":462.5,"height":325,"encoding":{"x":{"field":"x","type":"quantitative","scale":{"domain":[172.5,1560],"nice":false,"zero":false},"axis":null},"y":{"field":"y","type":"quantitative","scale":{"domain":[1020,45],"nice":false,"zero":false},"axis":null}},
"layer":[
{"data":{"name":"plane"},"mark":{"type":"area","orient":"vertical","color":"#e6e6e6"},"encoding":{"y2":{"field":"y2"}}},
{"data":{"name":"edges"},"mark":{"type":"line","color":"#777","strokeWidth":1},"encoding":{"detail":{"field":"g"}}},
{"data":{"name":"posts"},"mark":{"type":"line","color":"#aaa","strokeWidth":1.5},"encoding":{"detail":{"field":"g"}}},
{"data":{"name":"patch"},"mark":{"type":"area","orient":"vertical","color":"#000","opacity":0.27},"encoding":{"y2":{"field":"y2"}}},
{"data":{"name":"patchEdge"},"mark":{"type":"line","color":"#666","strokeWidth":1},"encoding":{"detail":{"field":"g"}}},
{"data":{"name":"st"},"mark":{"type":"point","shape":"triangle-up","filled":false,"size":60,"color":"#444","strokeWidth":1.1,"opacity":1}},
{"data":{"name":"aText"},"mark":{"type":"text","fontSize":15,"color":"#333"},"encoding":{"text":{"field":"t"}}},
{"data":{"values":[{"x":95,"y":408,"t":"Z (km)"}]},"mark":{"type":"text","fontSize":15,"color":"#333","angle":270},"encoding":{"text":{"field":"t"}}},
{"data":{"name":"panelTag"},"mark":{"type":"text","fontSize":24,"color":"#111"},"encoding":{"text":{"field":"t"}}}
]},
{"width":392,"height":311,"view":{"stroke":"#999"},"encoding":{"x":{"field":"i","type":"quantitative","scale":{"domain":[0,200],"nice":false},"axis":{"values":[0,50,100,150,200],"labels":false,"title":null,"grid":true,"gridColor":"#ddd"}},"y":{"field":"m","type":"quantitative","scale":{"type":"log","domain":[0.001,100],"nice":false},"axis":{"values":[0.001,0.01,0.1,1,10,100],"title":"Misfit","labelFontSize":19,"grid":true,"gridColor":"#ddd","labelExpr":"datum.value==100?'10²':datum.value==10?'10¹':datum.value==1?'10⁰':datum.value==0.1?'10⁻¹':datum.value==0.01?'10⁻²':'10⁻³'"}}},
"layer":[
{"data":{"name":"bMinor"},"mark":{"type":"rule","color":"#ccc","strokeDash":[1,2],"strokeWidth":0.7}},
{"data":{"name":"bLine"},"mark":{"type":"line","color":"#1a6fb8","strokeWidth":2.5}},
{"data":{"name":"bText"},"mark":{"type":"text","align":"left","fontSize":30,"font":"Open Sans","color":"#000"},"encoding":{"text":{"field":"t"}}}
]}
]},
{"spacing":66.5,"resolve":{"scale":{"fill":"independent"},"legend":{"fill":"independent"}},"hconcat":[
{"width":375,"height":375,"view":{"stroke":"#aaa"},"encoding":{"x":{"field":"x","type":"quantitative","scale":{"domain":[-5,5],"nice":false},"axis":{"values":[-5,0,5],"title":"Along-strike (km)","titleFontSize":17.5,"titlePadding":8}},"y":{"field":"y","type":"quantitative","scale":{"domain":[10,0],"nice":false},"axis":{"values":[0,2,4,6,8,10],"title":"Down-dip (km)"}}},
"layer":[
{"data":{"name":"cBlocks"},"mark":{"type":"rect"},"encoding":{"x2":{"field":"x2"},"y2":{"field":"y2"},"fill":{"field":"v","type":"quantitative","scale":{"domain":[8,8.5,9,9.5,10,10.5,11,11.5,12,12.5,13],"range":["#3e26a8","#4747eb","#3f67f8","#2a8bee","#0fa9d8","#10bab0","#4bbd8c","#94bf6a","#d9b93f","#fbcf30","#f9fb15"]},"legend":{"orient":"none","legendX":391.5,"legendY":0,"title":null,"gradientLength":375,"gradientThickness":21,"labelFontSize":16,"values":[8,8.5,9,9.5,10,10.5,11,11.5,12,12.5,13],"format":".1f"}}}},
{"data":{"name":"cBands"},"mark":{"type":"rect","height":13.6},"encoding":{"x2":{"field":"x2"},"fill":{"field":"v","type":"quantitative"}}},
{"data":{"name":"cUp"},"mark":{"type":"point","shape":"triangle-up","filled":true,"opacity":1,"size":235,"strokeWidth":0,"clip":true},"encoding":{"fill":{"field":"v","type":"quantitative"}}},
{"data":{"name":"cDown"},"mark":{"type":"point","shape":"triangle-down","filled":true,"opacity":1,"size":235,"strokeWidth":0,"clip":true},"encoding":{"fill":{"field":"v","type":"quantitative"}}},
{"data":{"name":"cText"},"mark":{"type":"text","align":"left","fontSize":23,"font":"Open Sans","color":"#000"},"encoding":{"text":{"field":"t"}}},
{"data":{"name":"cWhite"},"mark":{"type":"text","align":"left","fontSize":23,"font":"Open Sans","color":"#fff"},"encoding":{"text":{"field":"t"}}},
{"data":{"name":"cTag"},"mark":{"type":"text","align":"left","fontSize":24,"color":"#111"},"encoding":{"text":{"field":"t"}}},
{"data":{"name":"cTitle"},"mark":{"type":"text","fontSize":29,"font":"Open Sans","color":"#000"},"encoding":{"text":{"field":"t"}}},
{"data":{"name":"cExp"},"mark":{"type":"text","align":"left","fontSize":14,"color":"#222"},"encoding":{"text":{"field":"t"}}}
]},
{"width":372,"height":374,"view":{"stroke":"#aaa"},"encoding":{"x":{"field":"x","type":"quantitative","scale":{"domain":[-5,5],"nice":false},"axis":{"values":[-5,0,5],"title":"Along-strike (km)","labelFontSize":20,"titleFontSize":21,"titlePadding":8}},"y":{"field":"y","type":"quantitative","scale":{"domain":[10,0],"nice":false},"axis":{"values":[0,2,4,6,8,10],"title":"Down-dip (km)","labelFontSize":20,"titleFontSize":21}}},
"layer":[
{"data":{"name":"dBlocks"},"mark":{"type":"rect"},"encoding":{"x2":{"field":"x2"},"y2":{"field":"y2"},"fill":{"field":"v","type":"quantitative","scale":{"domain":[8,8.5,9,9.5,10,10.5,11,11.5,12,12.5,13],"range":["#3e26a8","#4747eb","#3f67f8","#2a8bee","#0fa9d8","#10bab0","#4bbd8c","#94bf6a","#d9b93f","#fbcf30","#f9fb15"]},"legend":{"orient":"none","legendX":389,"legendY":0,"title":null,"gradientThickness":24,"values":[8,8.5,9,9.5,10,10.5,11,11.5,12,12.5,13],"format":".1f"}}}},
{"data":{"name":"dBands"},"mark":{"type":"rect","height":13.6},"encoding":{"x2":{"field":"x2"},"fill":{"field":"v","type":"quantitative"}}},
{"data":{"name":"dUp"},"mark":{"type":"point","shape":"triangle-up","filled":true,"opacity":1,"size":235,"strokeWidth":0,"clip":true},"encoding":{"fill":{"field":"v","type":"quantitative"}}},
{"data":{"name":"dDown"},"mark":{"type":"point","shape":"triangle-down","filled":true,"opacity":1,"size":235,"strokeWidth":0,"clip":true},"encoding":{"fill":{"field":"v","type":"quantitative"}}},
{"data":{"name":"dTag"},"mark":{"type":"text","align":"left","fontSize":24,"color":"#111"},"encoding":{"text":{"field":"t"}}},
{"data":{"name":"dTitle"},"mark":{"type":"text","fontSize":18,"fontWeight":"bold","color":"#222"},"encoding":{"text":{"field":"t"}}},
{"data":{"name":"dExp"},"mark":{"type":"text","align":"left","fontSize":15,"color":"#222"},"encoding":{"text":{"field":"t"}}}
]}
]}
]}
